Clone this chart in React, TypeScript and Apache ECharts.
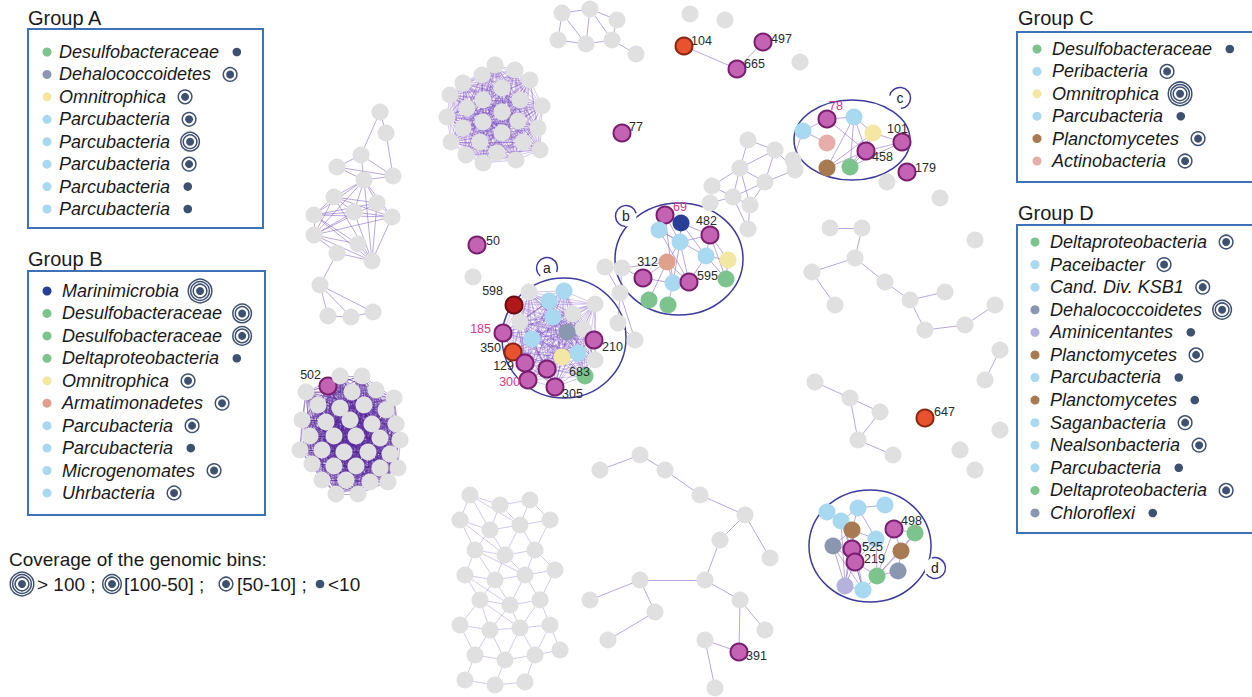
import React, { useEffect, useRef } from "react";
import * as echarts from "echarts";

const FONT = '"Liberation Sans", Arial, Helvetica, sans-serif';

// ---------- colours of taxa ----------
const TAXON_COLORS: Record<string, string> = {
  g: "#e0e0e0",
  m: "#c463b4",
  r: "#e8532f",
  R: "#b1171b",
  desulfo: "#7dc38d",
  dehalo: "#8b97b1",
  omni: "#f4e7a4",
  parcu: "#a9d8f1",
  marini: "#273f97",
  armat: "#e0a18c",
  plancto: "#a77a51",
  actino: "#e6adaa",
  amini: "#b5b2de",
  chloro: "#8b97b1",
};

// ---------- legends ----------
const groupA_taxa = ["Desulfobacteraceae", "Dehalococcoidetes", "Omnitrophica", "Parcubacteria", "Parcubacteria", "Parcubacteria", "Parcubacteria", "Parcubacteria"];
const groupA_kind = ["desulfo", "dehalo", "omni", "parcu", "parcu", "parcu", "parcu", "parcu"];
const groupA_cov = [0, 1, 1, 1, 2, 1, 0, 0];

const groupB_taxa = ["Marinimicrobia", "Desulfobacteraceae", "Desulfobacteraceae", "Deltaproteobacteria", "Omnitrophica", "Armatimonadetes", "Parcubacteria", "Parcubacteria", "Microgenomates", "Uhrbacteria"];
const groupB_kind = ["marini", "desulfo", "desulfo", "desulfo", "omni", "armat", "parcu", "parcu", "parcu", "parcu"];
const groupB_cov = [3, 2, 2, 0, 1, 1, 1, 0, 1, 1];

const groupC_taxa = ["Desulfobacteraceae", "Peribacteria", "Omnitrophica", "Parcubacteria", "Planctomycetes", "Actinobacteria"];
const groupC_kind = ["desulfo", "parcu", "omni", "parcu", "plancto", "actino"];
const groupC_cov = [0, 1, 3, 0, 1, 1];

const groupD_taxa = ["Deltaproteobacteria", "Paceibacter", "Cand. Div. KSB1", "Dehalococcoidetes", "Aminicentantes", "Planctomycetes", "Parcubacteria", "Planctomycetes", "Saganbacteria", "Nealsonbacteria", "Parcubacteria", "Deltaproteobacteria", "Chloroflexi"];
const groupD_kind = ["desulfo", "parcu", "parcu", "dehalo", "amini", "plancto", "parcu", "plancto", "parcu", "parcu", "parcu", "desulfo", "chloro"];
const groupD_cov = [1, 1, 1, 2, 0, 1, 0, 0, 1, 1, 0, 1, 0];

const coverageTitle = "Coverage of the genomic bins:";
const coverageClasses = ["> 100 ;", "[100-50] ;", "[50-10] ;", "<10"];

// ---------- network nodes: [x, y, kind, label] ----------
type N = [number, number, string, string?];

const bubbleA: N[] = [
  [514, 305, "R", "598"], [529, 292, "g"], [564, 291, "parcu"], [549, 301, "parcu"], [573, 314, "g"],
  [553, 317, "parcu"], [520, 322, "g"], [595, 304, "g"], [583, 329, "g"], [503, 333, "m", "185"],
  [567, 332, "dehalo"], [532, 339, "parcu"], [594, 340, "m", "210"], [513, 352, "r", "350"], [562, 357, "omni"],
  [578, 353, "parcu"], [595, 360, "g"], [525, 363, "m", "129"], [547, 369, "m", "683"], [585, 376, "desulfo"],
  [528, 380, "m", "300"], [555, 387, "m", "305"],
];

const bubbleB: N[] = [
  [665, 215, "m", "69"], [681, 223, "marini"], [710, 235, "m", "482"], [659, 230, "parcu"], [680, 242, "parcu"],
  [706, 256, "parcu"], [728, 260, "omni"], [667, 262, "armat", "312"], [643, 278, "m"], [673, 283, "parcu"],
  [689, 282, "m", "595"], [726, 279, "desulfo"], [649, 300, "desulfo"], [668, 305, "desulfo"],
  [605, 267, "g"], [622, 268, "g"], [620, 293, "g"], [618, 323, "g"], [635, 340, "g"],
];
const bubbleB_links: [number, number][] = [
  [0, 1], [0, 3], [0, 4], [1, 2], [1, 4], [1, 5], [3, 4], [3, 5], [4, 7], [4, 9], [4, 10], [2, 5], [2, 6], [2, 11],
  [5, 6], [5, 11], [6, 11], [5, 10], [7, 8], [7, 9], [7, 10], [7, 12], [8, 9], [9, 10], [9, 13], [3, 10], [0, 9], [2, 4],
  [14, 15], [15, 7], [15, 8], [14, 16], [15, 16], [16, 17], [17, 18], [16, 18],
];

const bubbleC: N[] = [
  [827, 119, "m", "78"], [854, 117, "parcu"], [803, 131, "parcu"], [827, 143, "actino"], [873, 133, "omni"],
  [902, 142, "m", "101"], [866, 151, "m", "458"], [827, 168, "plancto"], [850, 167, "desulfo"],
  [793, 160, "g"], [907, 172, "m", "179"], [887, 182, "g"],
];
const bubbleC_links: [number, number][] = [
  [0, 1], [0, 2], [2, 3], [1, 4], [1, 6], [1, 8], [1, 7], [0, 6], [4, 5], [4, 6], [4, 8], [6, 5], [6, 8], [6, 7], [5, 8], [4, 7], [2, 9],
];

const bubbleD: N[] = [
  [827, 512, "parcu"], [858, 508, "parcu"], [885, 505, "parcu"], [841, 521, "parcu"], [852, 530, "plancto"],
  [894, 529, "m", "498"], [915, 533, "desulfo"], [833, 546, "dehalo"], [876, 539, "parcu"], [852, 549, "m", "525"],
  [901, 551, "plancto"], [855, 562, "m", "219"], [898, 571, "dehalo"], [877, 576, "desulfo"], [845, 586, "amini"],
  [863, 590, "parcu"],
];
const bubbleD_links: [number, number][] = [
  [0, 3], [1, 3], [1, 2], [3, 4], [3, 9], [3, 11], [4, 7], [4, 9], [4, 11], [4, 8], [4, 14], [4, 15], [7, 9], [7, 11],
  [7, 14], [9, 11], [9, 14], [9, 15], [11, 14], [11, 15], [8, 11], [8, 13], [8, 9], [13, 15], [13, 11], [5, 6], [5, 10],
  [6, 10], [6, 13], [10, 13], [10, 12], [12, 13], [5, 13], [14, 15], [1, 4], [1, 8], [3, 14], [7, 15],
];

const denseTop: N[] = [
  [495, 65, "g"], [515, 70, "g"], [482, 75, "g"], [530, 80, "g"], [463, 83, "g"], [502, 88, "g"], [450, 95, "g"],
  [483, 100, "g"], [520, 100, "g"], [542, 106, "g"], [467, 108, "g"], [502, 112, "g"], [447, 117, "g"], [483, 122, "g"],
  [518, 121, "g"], [538, 128, "g"], [463, 128, "g"], [502, 133, "g"], [451, 142, "g"], [480, 142, "g"], [523, 142, "g"],
  [540, 150, "g"], [466, 155, "g"], [497, 153, "g"], [516, 160, "g"], [483, 163, "g"],
];

const dense502: N[] = [
  [328, 386, "m", "502"], [340, 376, "g"], [362, 376, "g"], [306, 392, "g"], [352, 392, "g"], [376, 390, "g"], [394, 398, "g"],
  [318, 405, "g"], [340, 408, "g"], [364, 405, "g"], [386, 410, "g"], [302, 420, "g"], [326, 422, "g"], [350, 420, "g"],
  [372, 424, "g"], [396, 424, "g"], [310, 436, "g"], [334, 436, "g"], [356, 436, "g"], [380, 438, "g"], [400, 440, "g"],
  [300, 450, "g"], [322, 450, "g"], [344, 452, "g"], [368, 452, "g"], [390, 454, "g"], [312, 464, "g"], [334, 466, "g"],
  [356, 466, "g"], [380, 468, "g"], [398, 468, "g"], [322, 480, "g"], [346, 480, "g"], [370, 482, "g"], [388, 482, "g"],
  [336, 494, "g"], [358, 494, "g"],
];

const chainLeft: N[] = [
  [380, 112, "g"], [386, 133, "g"], [361, 155, "g"], [337, 167, "g"], [393, 176, "g"], [364, 180, "g"], [334, 197, "g"],
  [377, 203, "g"], [354, 212, "g"], [392, 217, "g"], [314, 215, "g"], [314, 235, "g"], [358, 244, "g"], [337, 253, "g"],
  [372, 261, "g"], [320, 285, "g"], [328, 316, "g"], [351, 317, "g"], [373, 312, "g"],
];
const chainLeft_links: [number, number][] = [
  [0, 1], [0, 2], [1, 4], [2, 3], [2, 4], [3, 4], [2, 5], [3, 5], [4, 5], [5, 6], [5, 7], [5, 8], [5, 9], [5, 10], [5, 11],
  [5, 14], [6, 7], [6, 8], [6, 9], [6, 10], [6, 11], [6, 14], [7, 9], [7, 10], [7, 11], [7, 14], [8, 9], [8, 10], [8, 11],
  [8, 14], [9, 10], [9, 11], [9, 14], [10, 11], [10, 12], [10, 14], [11, 12], [11, 13], [11, 14], [12, 14], [13, 14],
  [13, 15], [15, 16], [15, 17], [15, 18], [16, 17], [17, 18],
];

const topRight: N[] = [
  [562, 13, "g"], [590, 9, "g"], [617, 20, "g"], [558, 40, "g"], [586, 44, "g"], [612, 40, "g"], [636, 54, "g"],
  [690, 14, "g"], [725, 20, "g"], [684, 46, "r", "104"], [763, 42, "m", "497"], [737, 69, "m", "665"], [800, 62, "g"],
  [622, 133, "m", "77"], [477, 245, "m", "50"], [473, 277, "g"],
];
const topRight_links: [number, number][] = [
  [0, 1], [0, 3], [0, 4], [1, 2], [1, 4], [3, 4], [4, 5], [2, 5], [1, 5], [5, 6], [9, 11], [10, 11],
];

const bTop: N[] = [
  [748, 140, "g"], [775, 150, "g"], [795, 170, "g"], [740, 168, "g"], [765, 182, "g"], [712, 186, "g"], [733, 197, "g"],
  [750, 205, "g"], [710, 203, "g"], [748, 229, "g"],
];
const bTop_links: [number, number][] = [
  [0, 1], [0, 3], [1, 2], [1, 3], [1, 4], [2, 4], [3, 4], [3, 5], [3, 6], [4, 6], [4, 7], [5, 6], [6, 7], [6, 8], [7, 9], [6, 9], [3, 7],
];

const rightTree: N[] = [
  [940, 198, "g"], [975, 240, "g"], [830, 228, "g"], [862, 228, "g"], [855, 258, "g"], [812, 272, "g"], [885, 282, "g"],
  [910, 300, "g"], [945, 292, "g"], [925, 330, "g"], [965, 325, "g"], [995, 305, "g"], [835, 305, "g"], [815, 382, "g"],
  [850, 398, "g"], [880, 412, "g"], [858, 440, "g"], [893, 455, "g"], [985, 380, "g"], [1000, 350, "g"], [960, 450, "g"],
  [925, 418, "r", "647"],
];
const rightTree_links: [number, number][] = [
  [2, 3], [3, 4], [4, 5], [4, 6], [6, 7], [7, 8], [7, 9], [9, 10], [10, 11], [5, 12], [13, 14], [14, 15], [15, 16], [16, 17],
  [14, 16], [18, 19],
];

const bottomLeft: N[] = [
  [470, 495, "g"], [500, 505, "g"], [530, 500, "g"], [460, 520, "g"], [490, 530, "g"], [520, 525, "g"], [550, 520, "g"],
  [475, 550, "g"], [505, 555, "g"], [535, 550, "g"], [465, 575, "g"], [495, 580, "g"], [525, 575, "g"], [555, 570, "g"],
  [480, 600, "g"], [510, 605, "g"], [540, 600, "g"], [460, 625, "g"], [490, 630, "g"], [520, 628, "g"], [550, 625, "g"],
  [475, 655, "g"], [505, 660, "g"], [535, 655, "g"], [465, 680, "g"], [495, 685, "g"], [525, 682, "g"], [560, 650, "g"],
];
const bottomLeft_links: [number, number][] = [
  [0, 1], [1, 2], [0, 3], [0, 4], [1, 4], [1, 5], [2, 5], [2, 6], [3, 4], [4, 5], [5, 6], [3, 7], [4, 7], [4, 8], [5, 8],
  [5, 9], [6, 9], [7, 8], [8, 9], [7, 10], [7, 11], [8, 11], [8, 12], [9, 12], [9, 13], [10, 11], [11, 12], [12, 13],
  [10, 14], [11, 14], [11, 15], [12, 15], [12, 16], [13, 16], [14, 15], [15, 16], [14, 17], [14, 18], [15, 18], [15, 19],
  [16, 19], [16, 20], [17, 18], [18, 19], [19, 20], [17, 21], [18, 21], [18, 22], [19, 22], [19, 23], [20, 23], [20, 27],
  [21, 22], [22, 23], [21, 24], [22, 25], [23, 26], [24, 25], [25, 26], [23, 27], [0, 5], [3, 8], [7, 12], [10, 15], [14, 19],
];

const bottomRight: N[] = [
  [600, 470, "g"], [640, 455, "g"], [665, 470, "g"], [700, 495, "g"], [745, 515, "g"], [720, 540, "g"], [770, 558, "g"],
  [705, 580, "g"], [740, 600, "g"], [765, 630, "g"], [705, 640, "g"], [715, 688, "g"], [655, 612, "g"], [640, 580, "g"],
  [608, 640, "g"], [590, 600, "g"], [739, 652, "m", "391"], [1000, 430, "g"], [975, 470, "g"],
];
const bottomRight_links: [number, number][] = [
  [0, 1], [1, 2], [2, 3], [3, 4], [4, 5], [4, 6], [5, 7], [7, 8], [8, 9], [8, 16], [10, 16], [10, 11], [12, 13], [12, 14],
  [13, 15], [7, 13],
];

// label placement: [dx, dy, align]
const LABEL_OFFSET: Record<string, [number, number, string]> = {
  "598": [-10, -13, "right"], "185": [-11, -3, "right"], "350": [-11, -3, "right"], "129": [-10, 4, "right"],
  "300": [-7, 3, "right"], "305": [8, 8, "left"], "683": [23, 4, "left"], "210": [9, 8, "left"], "50": [10, -3, "left"],
  "69": [9, -7, "left"], "482": [-13, -13, "left"], "312": [-9, 0, "right"], "595": [9, -5, "left"], "78": [3, -12, "left"],
  "101": [-14, -12, "left"], "458": [7, 7, "left"], "179": [9, -3, "left"], "498": [8, -7, "left"], "525": [11, -1, "left"],
  "219": [10, -2, "left"], "104": [8, -4, "left"], "497": [9, -2, "left"], "665": [8, -4, "left"], "77": [8, -5, "left"],
  "647": [10, -5, "left"], "391": [8, 5, "left"], "502": [-6, -10, "right"],
};
const PINK_LABELS = ["185", "300", "69", "78"];

// bubbles: centre, radii, bump position
const BUBBLES = [
  { id: "a", cx: 564, cy: 338, rx: 62, ry: 60, bx: 547, by: 268 },
  { id: "b", cx: 679, cy: 259, rx: 64, ry: 56, bx: 626, by: 216 },
  { id: "c", cx: 852, cy: 140, rx: 58, ry: 40, bx: 900, by: 98 },
  { id: "d", cx: 870, cy: 546, rx: 61, ry: 56, bx: 935, by: 568 },
];

function allPairs(n: number): [number, number][] {
  const out: [number, number][] = [];
  for (let i = 0; i < n; i++) for (let j = i + 1; j < n; j++) out.push([i, j]);
  return out;
}

let measureCtx: CanvasRenderingContext2D | null = null;
function textWidth(t: string, font: string) {
  if (!measureCtx) measureCtx = document.createElement("canvas").getContext("2d");
  measureCtx!.font = font;
  return measureCtx!.measureText(t).width;
}

const COV_COLOR = "#3f5170";
const RING_R = [6.8, 9.3, 11.8];
function covOuter(level: number) {
  return level === 0 ? 4.3 : RING_R[level - 1] + 0.75;
}
function covIcon(cx: number, cy: number, level: number): any[] {
  const els: any[] = [{ type: "circle", shape: { cx, cy, r: level === 0 ? 4.3 : 4 }, style: { fill: COV_COLOR } }];
  for (let k = 0; k < level; k++) {
    els.push({ type: "circle", shape: { cx, cy, r: RING_R[k] }, style: { fill: "none", stroke: COV_COLOR, lineWidth: 1.5 } });
  }
  return els;
}

function legendBlock(title: string, tx: number, ty: number, box: number[], rowY0: number, rowStep: number, dotX: number, textX: number, taxa: string[], kinds: string[], cov: number[]) {
  const els: any[] = [];
  els.push({ type: "text", x: tx, y: ty, style: { text: title, font: `20px ${FONT}`, fill: "#1a1a1a", verticalAlign: "middle" } });
  els.push({ type: "rect", shape: { x: box[0], y: box[1], width: box[2], height: box[3] }, style: { fill: "#fff", stroke: "#3d72b6", lineWidth: 2 } });
  const f = `italic 18px ${FONT}`;
  taxa.forEach((t, i) => {
    const y = rowY0 + i * rowStep;
    els.push({ type: "circle", shape: { cx: dotX, cy: y, r: 4.5 }, style: { fill: TAXON_COLORS[kinds[i]] } });
    els.push({ type: "text", x: textX, y, style: { text: t, font: f, fill: "#1a1a1a", verticalAlign: "middle" } });
    const w = textWidth(t, f);
    const r = covOuter(cov[i]);
    els.push(...covIcon(textX + w + 16 + r * 0.4, y, cov[i]));
  });
  return els;
}

function buildOption() {
  const nodes: any[] = [];
  const links: any[] = [];
  const edgeNormal = { color: "#8d6cc6", width: 1, opacity: 0.6, curveness: 0 };
  const edgeDense = { color: "#7a4cbf", width: 0.7, opacity: 0.45, curveness: 0 };
  const edgeVeryDense = { color: "#55239a", width: 0.8, opacity: 0.5, curveness: 0 };

  const add = (list: N[], pairs: [number, number][], style: any) => {
    const base = nodes.length;
    list.forEach(([x, y, kind, label]) => {
      const isM = kind === "m";
      const isR = kind === "r" || kind === "R";
      const node: any = {
        value: [x, y],
        symbolSize: 17,
        itemStyle: {
          color: TAXON_COLORS[kind],
          borderColor: isM ? "#7a1d70" : isR ? (kind === "R" ? "#6e0c0c" : "#8e2512") : "transparent",
          borderWidth: isM || isR ? 2 : 0,
        },
        label: { show: false },
      };
      if (label) {
        const off = LABEL_OFFSET[label] || [9, 0, "left"];
        node.label = {
          show: true,
          formatter: label,
          position: [8.5 + off[0], 8.5 + off[1]],
          align: off[2],
          verticalAlign: "middle",
          fontSize: 12.5,
          fontFamily: FONT,
          color: PINK_LABELS.includes(label) ? "#d63a8b" : "#2a2a2a",
        };
      }
      nodes.push(node);
    });
    pairs.forEach(([i, j]) => links.push({ source: base + i, target: base + j, lineStyle: style }));
  };

  add(dense502, allPairs(dense502.length), edgeVeryDense);
  add(denseTop, allPairs(denseTop.length), edgeDense);
  add(chainLeft, chainLeft_links, edgeNormal);
  add(topRight, topRight_links, edgeNormal);
  add(bTop, bTop_links, edgeNormal);
  add(rightTree, rightTree_links, edgeNormal);
  add(bottomLeft, bottomLeft_links, edgeDense);
  add(bottomRight, bottomRight_links, edgeNormal);
  add(bubbleA, allPairs(bubbleA.length), edgeDense);
  add(bubbleB, bubbleB_links, edgeNormal);
  add(bubbleC, bubbleC_links, edgeNormal);
  add(bubbleD, bubbleD_links, edgeNormal);

  const g: any[] = [];
  const bubbleStroke = "#3b3a9c";
  BUBBLES.forEach((b) => {
    g.push({ type: "ellipse", shape: { cx: b.cx, cy: b.cy, rx: b.rx, ry: b.ry }, style: { fill: "none", stroke: bubbleStroke, lineWidth: 1.5 }, z: 1 });
  });
  BUBBLES.forEach((b) => {
    const ang = Math.atan2(b.by - b.cy, b.bx - b.cx);
    g.push({ type: "circle", shape: { cx: b.bx, cy: b.by, r: 10.5 }, style: { fill: "#fff" }, z: 1 });
    g.push({
      type: "arc",
      shape: { cx: b.bx, cy: b.by, r: 10.5, startAngle: ang - 2.2, endAngle: ang + 2.2, clockwise: true },
      style: { stroke: bubbleStroke, lineWidth: 1.5, fill: "none" },
      z: 1,
    });
    g.push({ type: "text", x: b.bx, y: b.by, style: { text: b.id, font: `14px ${FONT}`, fill: "#222", align: "center", verticalAlign: "middle" }, z: 1 });
  });

  g.push(...legendBlock("Group A", 28, 18, [28, 29, 235, 199], 52, 22.43, 47, 59, groupA_taxa, groupA_kind, groupA_cov));
  g.push(...legendBlock("Group B", 28, 259, [28, 271, 237, 244], 291, 22.44, 47, 62, groupB_taxa, groupB_kind, groupB_cov));
  g.push(...legendBlock("Group C", 1018, 18, [1017, 32, 245, 150], 49, 22.4, 1037, 1052, groupC_taxa, groupC_kind, groupC_cov));
  g.push(...legendBlock("Group D", 1018, 213, [1017, 225, 245, 308], 242, 22.58, 1035, 1050, groupD_taxa, groupD_kind, groupD_cov));

  const cf = `19px ${FONT}`;
  g.push({ type: "text", x: 9, y: 559, style: { text: coverageTitle, font: cf, fill: "#1a1a1a", verticalAlign: "middle" } });
  const lineY = 584;
  const iconXs = [22, 112, 226, 320];
  const textXs = [37, 124, 237, 328];
  [3, 2, 1, 0].forEach((lvl, i) => {
    g.push(...covIcon(iconXs[i], lineY, lvl));
    g.push({ type: "text", x: textXs[i], y: lineY, style: { text: coverageClasses[i], font: cf, fill: "#1a1a1a", verticalAlign: "middle" } });
  });

  return {
    animation: false,
    backgroundColor: "#ffffff",
    grid: { left: 0, right: 0, top: 0, bottom: 0 },
    xAxis: { type: "value", min: 0, max: 1252, show: false },
    yAxis: { type: "value", min: 0, max: 697, inverse: true, show: false },
    graphic: { elements: g },
    series: [
      {
        type: "graph",
        coordinateSystem: "cartesian2d",
        layout: "none",
        symbol: "circle",
        data: nodes,
        links,
        emphasis: { disabled: true },
        z: 3,
      },
    ],
  };
}

export default function App() {
  const ref = useRef<HTMLDivElement>(null);
  useEffect(() => {
    if (!ref.current) return;
    const chart = echarts.init(ref.current, undefined, { renderer: "svg" });
    chart.setOption(buildOption() as any);
    return () => chart.dispose();
  }, []);
  return <div ref={ref} style={{ position: "fixed", left: 0, top: 0, width: 1252, height: 697, background: "#fff" }} />;
}
